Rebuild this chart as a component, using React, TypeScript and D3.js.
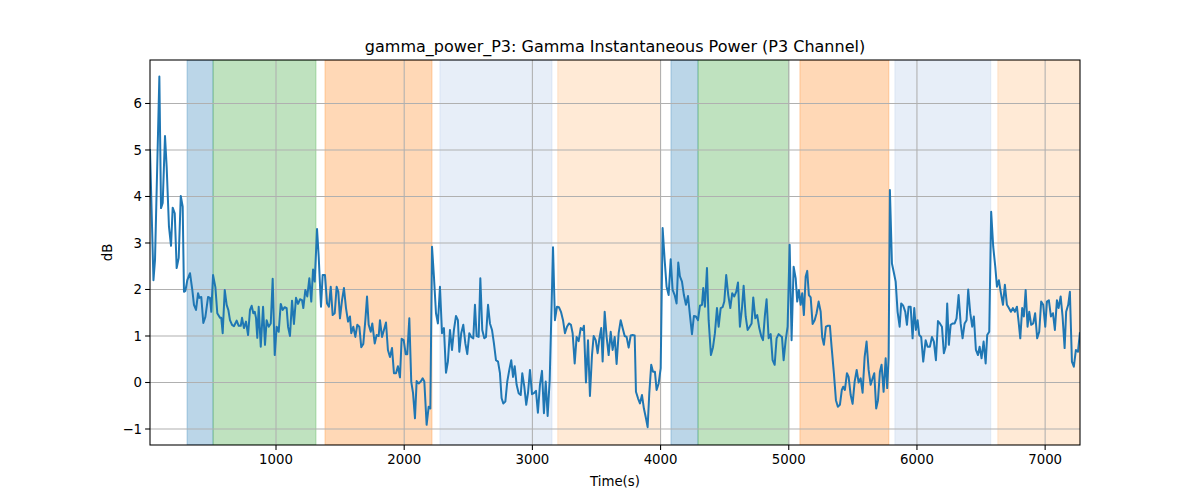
import React from 'react';
import * as d3 from 'd3';

// sample times (s) and gamma power (dB)
const timeS = [
  17, 44, 56, 90, 103, 116, 134, 147, 165, 181, 194, 210, 225, 241, 257, 272, 282, 293, 308, 329,
  347, 360, 376, 392, 402, 417, 433, 449, 470, 485, 495, 509, 527, 542, 563, 573, 584, 600, 615, 628,
  641, 657, 672, 693, 709, 725, 735, 750, 766, 782, 797, 810, 823, 834, 844, 854, 865, 881, 899, 914,
  927, 943, 959, 974, 990, 1005, 1021, 1037, 1052, 1068, 1083, 1094, 1109, 1125, 1140, 1156, 1172, 1187, 1203, 1213,
  1229, 1244, 1260, 1275, 1289, 1302, 1320, 1333, 1351, 1364, 1382, 1398, 1413, 1427, 1442, 1458, 1473, 1486, 1499, 1515,
  1530, 1546, 1562, 1577, 1587, 1603, 1619, 1634, 1650, 1665, 1681, 1697, 1710, 1723, 1739, 1751, 1770, 1785, 1801, 1811,
  1827, 1842, 1858, 1873, 1889, 1905, 1920, 1936, 1951, 1967, 1980, 1996, 2012, 2024, 2040, 2055, 2069, 2084, 2097, 2113,
  2129, 2144, 2157, 2175, 2191, 2204, 2217, 2232, 2248, 2263, 2279, 2295, 2310, 2326, 2341, 2357, 2373, 2388, 2404, 2419,
  2430, 2445, 2461, 2477, 2492, 2508, 2523, 2539, 2552, 2565, 2581, 2594, 2609, 2625, 2638, 2654, 2669, 2685, 2700, 2716,
  2732, 2747, 2760, 2773, 2789, 2804, 2820, 2835, 2849, 2862, 2877, 2893, 2909, 2921, 2937, 2952, 2966, 2981, 2997, 3012,
  3028, 3043, 3059, 3075, 3090, 3104, 3119, 3135, 3147, 3161, 3176, 3192, 3207, 3223, 3239, 3254, 3270, 3285, 3301, 3314,
  3330, 3345, 3361, 3377, 3392, 3402, 3418, 3434, 3449, 3465, 3478, 3494, 3509, 3522, 3537, 3548, 3564, 3579, 3595, 3611,
  3626, 3642, 3657, 3673, 3689, 3704, 3720, 3735, 3751, 3767, 3782, 3798, 3808, 3824, 3839, 3855, 3870, 3886, 3899, 3912,
  3927, 3941, 3956, 3969, 3985, 4001, 4016, 4032, 4047, 4063, 4079, 4094, 4110, 4125, 4138, 4151, 4167, 4182, 4198, 4214,
  4229, 4245, 4260, 4276, 4292, 4307, 4323, 4333, 4346, 4362, 4375, 4393, 4409, 4424, 4440, 4453, 4469, 4484, 4497, 4512,
  4528, 4544, 4559, 4575, 4590, 4604, 4619, 4635, 4648, 4664, 4679, 4695, 4710, 4723, 4739, 4754, 4770, 4785, 4799, 4814,
  4827, 4843, 4859, 4874, 4890, 4905, 4921, 4937, 4947, 4960, 4976, 4991, 5007, 5022, 5038, 5054, 5066, 5079, 5093, 5105,
  5118, 5132, 5144, 5157, 5171, 5186, 5202, 5217, 5233, 5249, 5261, 5274, 5290, 5306, 5321, 5334, 5352, 5368, 5383, 5399,
  5414, 5425, 5438, 5454, 5467, 5483, 5498, 5514, 5530, 5545, 5561, 5576, 5592, 5607, 5623, 5639, 5654, 5667, 5682, 5696,
  5711, 5724, 5740, 5756, 5768, 5779, 5789, 5805, 5820, 5834, 5849, 5865, 5877, 5893, 5909, 5922, 5935, 5951, 5966, 5979,
  5992, 6005, 6018, 6033, 6049, 6068, 6083, 6101, 6117, 6132, 6148, 6164, 6179, 6195, 6210, 6224, 6236, 6249, 6263, 6278,
  6294, 6309, 6325, 6341, 6356, 6372, 6387, 6400, 6416, 6431, 6444, 6460, 6476, 6489, 6504, 6520, 6536, 6548, 6564, 6579,
  6595, 6611, 6624, 6639, 6655, 6671, 6686, 6702, 6717, 6733, 6749, 6764, 6780, 6793, 6806, 6821, 6834, 6848, 6863, 6876,
  6891, 6907, 6922, 6938, 6954, 6969, 6985, 7001, 7014, 7029, 7045, 7061, 7076, 7092, 7105, 7121, 7136, 7152, 7164, 7180,
  7193, 7209, 7224, 7240, 7256, 7271,
];

const powerDb = [
  5.0, 2.2, 2.63, 6.58, 3.75, 3.86, 5.3, 4.64, 3.35, 2.94, 3.76, 3.64, 2.46, 2.68, 4.01, 3.78, 1.95, 1.97, 2.2, 2.35,
  1.99, 1.67, 1.56, 1.92, 1.82, 1.84, 1.28, 1.41, 1.84, 1.82, 1.52, 2.31, 2.05, 1.49, 1.39, 1.39, 1.06, 1.99, 1.67, 1.56,
  1.34, 1.24, 1.21, 1.33, 1.22, 1.22, 1.39, 1.17, 1.31, 1.02, 1.56, 1.65, 1.49, 1.52, 1.39, 0.96, 1.63, 0.77, 1.63, 0.81,
  1.34, 1.2, 1.27, 2.23, 0.59, 1.2, 1.09, 1.69, 1.56, 1.62, 1.6, 1.2, 1.0, 1.76, 1.26, 1.82, 1.69, 1.79, 1.77, 1.6,
  1.99, 1.85, 2.24, 1.74, 2.43, 2.17, 3.3, 2.71, 1.63, 2.31, 2.31, 1.7, 1.63, 2.06, 1.45, 1.49, 2.06, 1.95, 1.38, 1.77,
  2.03, 1.6, 1.31, 1.42, 1.06, 1.2, 0.98, 1.24, 1.2, 0.76, 0.83, 1.34, 1.85, 1.24, 1.09, 1.27, 0.84, 1.02, 1.0, 1.34,
  0.98, 1.13, 1.29, 0.7, 0.55, 0.74, 0.2, 0.2, 0.35, 0.11, 0.94, 0.91, 0.61, 0.61, 1.38, 0.02, -0.23, -0.77, 0.03, -0.02,
  0.02, 0.09, 0.02, -0.91, -0.52, -0.56, 2.92, 2.28, 1.49, 1.27, 2.06, 1.06, 1.17, 0.21, 0.45, 1.13, 0.7, 1.13, 1.43, 1.34,
  0.66, 1.06, 1.24, 0.84, 0.61, 1.06, 0.98, 0.95, 1.67, 1.0, 0.98, 2.24, 1.13, 0.95, 0.98, 1.67, 1.27, 1.13, 0.84, 0.48,
  0.45, 0.2, -0.34, -0.45, -0.41, 0.02, 0.27, 0.48, 0.12, 0.35, -0.05, -0.23, -0.27, 0.2, -0.09, -0.48, -0.22, 0.27, -0.25, -0.23,
  -0.18, -0.65, -0.05, 0.25, -0.66, 0.02, -0.72, 0.05, 1.34, 2.91, 1.34, 1.63, 1.62, 1.52, 1.34, 1.06, 1.2, 1.27, 1.24, 1.06,
  0.41, 0.98, 0.89, 1.17, 1.13, 1.22, 0.0, 0.91, -0.29, 0.59, 1.0, 0.91, 0.63, 0.93, 1.17, 0.45, 1.52, 0.98, 0.59, 1.09,
  0.7, 0.98, 0.4, 1.06, 1.34, 1.17, 1.0, 0.98, 0.75, 1.01, 1.02, 1.01, -0.2, -0.34, -0.45, -0.27, -0.56, -0.77, -0.96, -0.23,
  0.38, 0.23, 0.23, -0.16, -0.02, 0.31, 3.32, 2.63, 2.06, 1.88, 2.65, 1.99, 1.88, 1.7, 2.58, 2.28, 2.17, 1.88, 1.67, 1.86,
  1.45, 1.04, 1.43, 1.42, 1.34, 1.65, 1.67, 2.03, 1.63, 2.46, 1.34, 0.59, 0.76, 1.06, 1.6, 1.2, 1.6, 1.62, 1.74, 2.31,
  1.88, 1.6, 1.92, 1.85, 1.95, 2.15, 1.2, 1.6, 2.08, 1.42, 1.13, 1.2, 1.27, 1.83, 1.38, 1.45, 1.17, 1.0, 0.91, 1.45,
  1.79, 0.95, 1.04, 0.48, 0.38, 0.95, 1.04, 1.0, 0.98, 0.48, 0.91, 1.2, 2.96, 0.91, 2.49, 2.24, 1.74, 1.99, 1.67, 1.92,
  1.45, 2.28, 2.4, 1.88, 1.83, 1.26, 1.34, 1.49, 1.74, 1.52, 0.97, 0.81, 1.2, 1.22, 1.22, 0.77, 0.2, -0.38, -0.52, -0.48,
  -0.16, -0.09, -0.16, 0.2, 0.12, -0.27, -0.46, 0.02, 0.27, 0.0, 0.09, -0.22, 0.55, 0.88, 0.27, -0.05, 0.09, 0.2, -0.56, -0.38,
  0.23, 0.38, -0.2, 0.52, -0.12, 0.52, 4.14, 2.56, 2.36, 2.17, 1.52, 1.2, 1.7, 1.65, 1.52, 1.24, 1.63, 1.63, 0.95, 1.6,
  1.13, 1.34, 1.02, 0.98, 0.45, 0.91, 0.77, 0.77, 0.98, 0.88, 0.48, 1.32, 1.27, 1.2, 0.63, 0.77, 1.7, 0.81, 1.24, 1.27,
  1.27, 1.38, 1.88, 1.27, 0.95, 1.27, 1.34, 2.0, 1.49, 1.2, 1.42, 0.7, 0.59, 0.77, 0.52, 0.88, 0.41, 1.02, 1.09, 3.67,
  2.92, 2.49, 2.06, 2.2, 1.92, 1.67, 2.1, 1.67, 1.6, 1.52, 1.6, 1.52, 1.63, 1.31, 0.95, 1.6, 1.42, 1.99, 1.2, 1.52,
  1.24, 1.27, 1.49, 0.95, 1.09, 1.74, 1.67, 1.2, 1.74, 1.77, 1.42, 1.49, 1.13, 1.77, 1.6, 1.85, 1.42, 0.74, 1.52, 1.67,
  1.95, 0.45, 0.34, 0.7, 0.66, 1.06,
];

// experiment phases shaded behind the trace (start, end in seconds, phase kind)
const bandStart = [306, 509, 1382, 2279, 3198, 4081, 4292, 5087, 5828, 6631];
const bandEnd = [509, 1312, 2217, 3153, 4000, 4292, 5001, 5781, 6576, 7272];
const bandKind = [0, 1, 2, 3, 4, 0, 1, 2, 3, 4];

const xTicks = [1000, 2000, 3000, 4000, 5000, 6000, 7000];
const yTicks = [-1, 0, 1, 2, 3, 4, 5, 6];

const title = 'gamma_power_P3: Gamma Instantaneous Power (P3 Channel)';

const phaseColors = ['#1f77b4', '#2ca02c', '#ff7f0e', '#aec7e8', '#ffbb78'];

const W = 1200;
const H = 500;
const margin = { top: 60, right: 120, bottom: 55, left: 150 };
const FONT = 'DejaVu Sans, sans-serif';

export default function App() {
  const innerW = W - margin.left - margin.right;
  const innerH = H - margin.top - margin.bottom;

  const x = d3.scaleLinear().domain([17, 7272]).range([0, innerW]);
  const y = d3.scaleLinear().domain([-1.344, 6.935]).range([innerH, 0]);

  const points = timeS.map((t, i) => [t, powerDb[i]] as [number, number]);
  const line = d3
    .line<[number, number]>()
    .x(d => x(d[0]))
    .y(d => y(d[1]));

  return (
    <svg
      width={W}
      height={H}
      style={{ position: 'absolute', left: 0, top: 0, background: '#fff' }}
      fontFamily={FONT}
    >
      <defs>
        <clipPath id="plot-area">
          <rect width={innerW} height={innerH} />
        </clipPath>
      </defs>
      <g transform={`translate(${margin.left},${margin.top})`}>
        {/* phase bands */}
        <g clipPath="url(#plot-area)">
          {bandStart.map((s, i) => (
            <rect
              key={i}
              x={x(s)}
              y={0}
              width={x(bandEnd[i]) - x(s)}
              height={innerH}
              fill={phaseColors[bandKind[i]]}
              fillOpacity={0.3}
              stroke={phaseColors[bandKind[i]]}
              strokeOpacity={0.3}
              strokeWidth={1}
            />
          ))}
        </g>

        {/* grid */}
        {xTicks.map(t => (
          <line key={`gx${t}`} x1={x(t)} x2={x(t)} y1={0} y2={innerH} stroke="#b0b0b0" strokeWidth={1.07} />
        ))}
        {yTicks.map(t => (
          <line key={`gy${t}`} x1={0} x2={innerW} y1={y(t)} y2={y(t)} stroke="#b0b0b0" strokeWidth={1.07} />
        ))}

        {/* trace */}
        <path
          d={line(points) ?? ''}
          fill="none"
          stroke="#1f77b4"
          strokeWidth={2}
          strokeLinejoin="round"
          strokeLinecap="square"
          clipPath="url(#plot-area)"
        />

        {/* spines */}
        <rect width={innerW} height={innerH} fill="none" stroke="#000" strokeWidth={1.07} />

        {/* x axis */}
        {xTicks.map(t => (
          <g key={`xt${t}`} transform={`translate(${x(t)},${innerH})`}>
            <line y2={4.9} stroke="#000" strokeWidth={1.07} />
            <text y={19} textAnchor="middle" fontSize={13.3} fill="#000">
              {t}
            </text>
          </g>
        ))}
        <text x={innerW / 2} y={innerH + 41} textAnchor="middle" fontSize={13.3} fill="#000">
          Time(s)
        </text>

        {/* y axis */}
        {yTicks.map(t => (
          <g key={`yt${t}`} transform={`translate(0,${y(t)})`}>
            <line x2={-4.9} stroke="#000" strokeWidth={1.07} />
            <text x={-8} dy="0.35em" textAnchor="end" fontSize={13.3} fill="#000">
              {t === -1 ? '\u22121' : t}
            </text>
          </g>
        ))}
        <text
          transform={`translate(${-38},${innerH / 2}) rotate(-90)`}
          textAnchor="middle"
          fontSize={13.3}
          fill="#000"
        >
          dB
        </text>

        <text x={innerW / 2} y={-8} textAnchor="middle" fontSize={16} fill="#000">
          {title}
        </text>
      </g>
    </svg>
  );
}
